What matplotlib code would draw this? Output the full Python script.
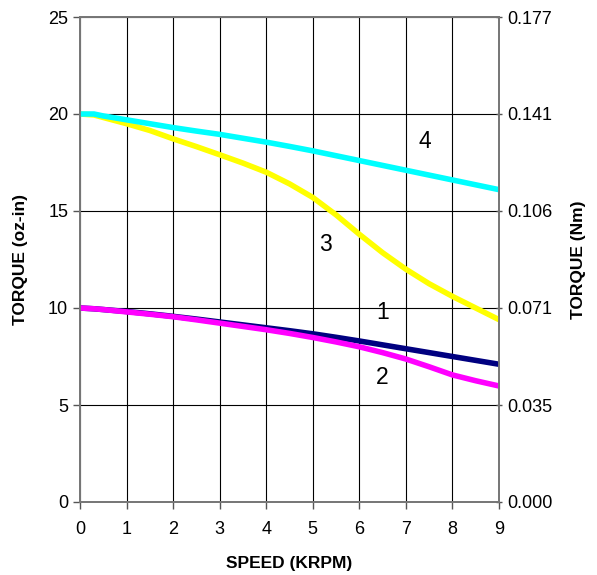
import matplotlib.pyplot as plt
import numpy as np

plt.rcParams['font.family'] = ['Liberation Sans', 'DejaVu Sans']

# speed (krpm)
speed = [0, 0.3, 0.5, 1, 1.5, 2, 2.5, 3, 3.5, 4, 4.5, 5, 5.5, 6, 6.5, 7, 7.5, 8, 8.5, 9]
# torque oz-in for each curve
curve1 = [10.0, 9.96, 9.92, 9.82, 9.7, 9.57, 9.43, 9.28, 9.13, 8.98, 8.83, 8.67,
          8.49, 8.3, 8.1, 7.9, 7.7, 7.5, 7.3, 7.1]
curve2 = [10.0, 9.96, 9.92, 9.8, 9.68, 9.55, 9.39, 9.22, 9.05, 8.88, 8.69, 8.48,
          8.25, 8.0, 7.7, 7.37, 6.97, 6.55, 6.25, 5.98]
curve3 = [20.0, 19.95, 19.82, 19.5, 19.15, 18.72, 18.32, 17.9, 17.47, 17.0, 16.4, 15.7,
          14.8, 13.8, 12.85, 12.0, 11.25, 10.6, 10.0, 9.4]
curve4 = [20.0, 20.0, 19.9, 19.7, 19.5, 19.3, 19.12, 18.95, 18.75, 18.55, 18.33, 18.1,
          17.85, 17.6, 17.35, 17.1, 16.85, 16.6, 16.35, 16.1]

curve_colors = ['#000080', '#ff00ff', '#ffff00', '#00ffff']
curve_names = ['1', '2', '3', '4']
label_pos = [(6.5, 9.75), (6.5, 6.4), (5.28, 13.25), (7.4, 18.6)]

right_labels = ['0.000', '0.035', '0.071', '0.106', '0.141', '0.177']

fig = plt.figure(figsize=(5.97, 5.75), dpi=100)
ax = fig.add_axes([80 / 597, 73 / 575, 419 / 597, 485 / 575])

for c, col in zip([curve1, curve2, curve3, curve4], curve_colors):
    ax.plot(speed, c, color=col, linewidth=4.0, solid_capstyle='butt',
            solid_joinstyle='round', zorder=3)

for name, (lx, ly) in zip(curve_names, label_pos):
    ax.text(lx, ly, name, fontsize=16.5, ha='center', va='center', zorder=4)

ax.set_xlim(0, 9)
ax.set_ylim(0, 25)
ax.set_xticks(range(0, 10))
ax.set_yticks(range(0, 26, 5))
ax.grid(True, color='black', linewidth=0.8)
ax.tick_params(labelsize=13, length=5, width=1, color='#555555')
ax.tick_params(axis='x', pad=9)
for s in ax.spines.values():
    s.set_color('#777777')
    s.set_linewidth(1.3)

ax.set_xlabel('SPEED (KRPM)', fontsize=12.5, fontweight='bold', va='center')
ax.xaxis.set_label_coords(0.5, -0.126)
ax.set_ylabel('TORQUE (oz-in)', fontsize=12.5, fontweight='bold', va='center')
ax.yaxis.set_label_coords(-0.143, 0.5)

ax2 = ax.twinx()
ax2.set_ylim(0, 25)
ax2.set_yticks(range(0, 26, 5))
ax2.set_yticklabels(right_labels)
ax2.tick_params(labelsize=13, length=5, width=1, color='#555555', direction='inout')
for s in ax2.spines.values():
    s.set_color('#777777')
    s.set_linewidth(1.3)
ax2.set_ylabel('TORQUE (Nm)', fontsize=12.5, fontweight='bold', va='center')
ax2.yaxis.set_label_coords(1.189, 0.5)

fig.savefig('out.png', dpi=100)
